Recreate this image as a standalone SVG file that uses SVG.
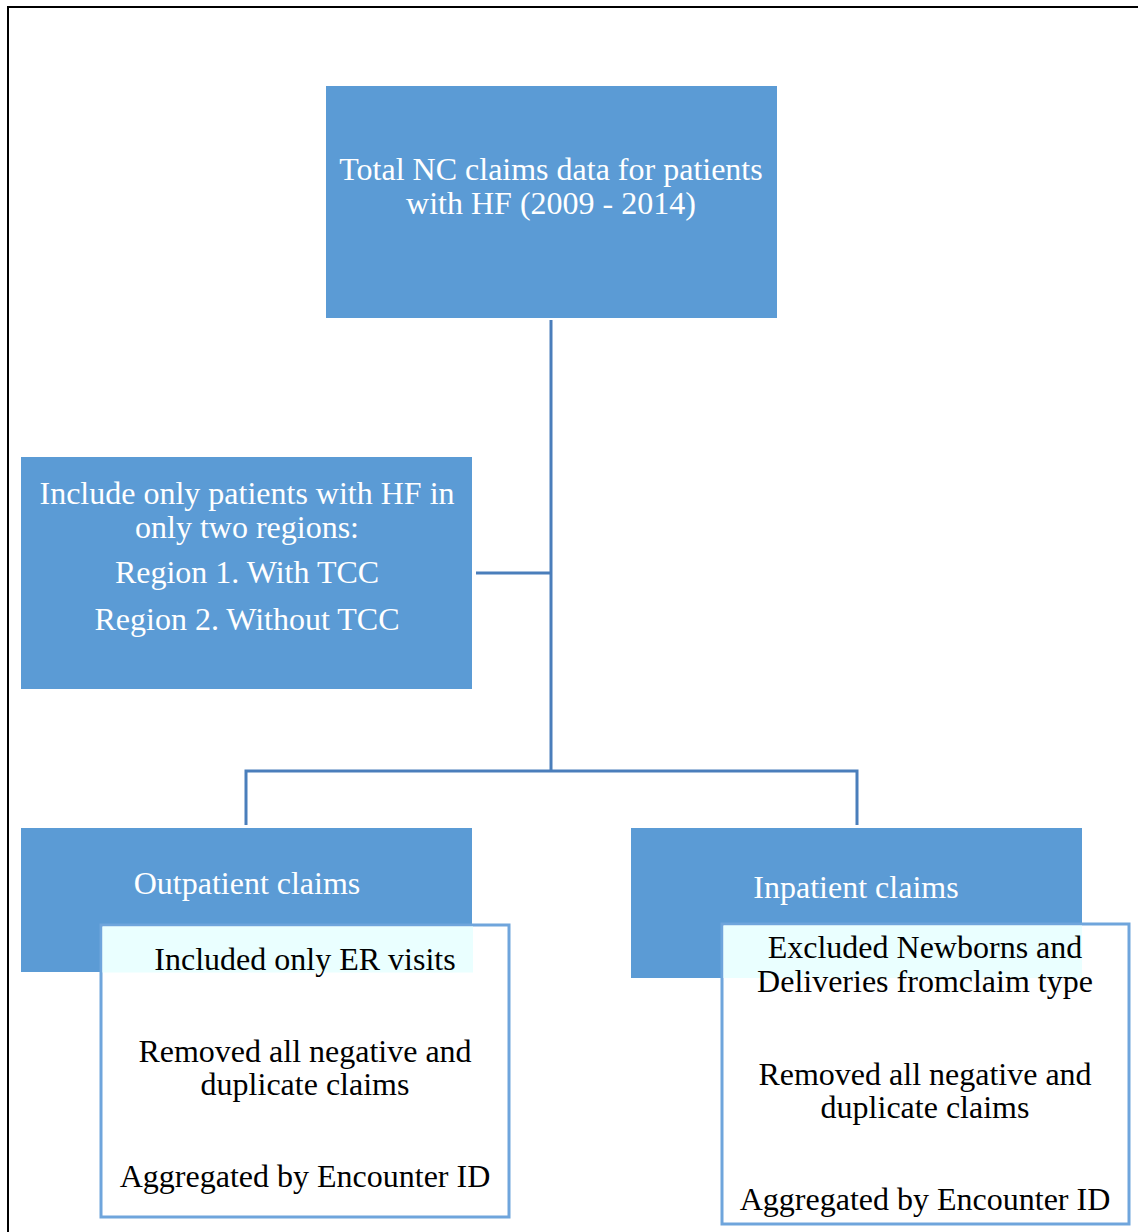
<svg xmlns="http://www.w3.org/2000/svg" width="1138" height="1232" viewBox="0 0 1138 1232">
  <style>
    .box { fill: #5B9BD5; }
    .sub { fill: #FFFFFF; stroke: #6FA5DC; stroke-width: 3; }
    .tint { fill: #EAFFFF; }
    .wt { font-family: "Liberation Serif", "Times New Roman", serif; font-size: 32px; fill: #FFFFFF; text-anchor: middle; }
    .bt { font-family: "Liberation Serif", "Times New Roman", serif; font-size: 32px; fill: #000000; text-anchor: middle; }
    .conn { fill: none; stroke: #4A7EBB; stroke-width: 3; }
  </style>

  <rect x="0" y="0" width="1138" height="1232" fill="#FFFFFF"/>
  <!-- page frame -->
  <path d="M 8 1232 L 8 7 L 1138 7" fill="none" stroke="#000000" stroke-width="2"/>

  <g id="connectors">
    <path class="conn" d="M 551 320 L 551 771"/>
    <path class="conn" d="M 476 573 L 551 573"/>
    <path class="conn" d="M 246 825 L 246 771 L 857 771 L 857 825"/>
  </g>

  <g id="total">
    <rect class="box" x="326" y="86" width="451" height="232"/>
    <text class="wt" x="551" y="180">Total NC claims data for patients</text>
    <text class="wt" x="551" y="214">with HF (2009 - 2014)</text>
  </g>

  <g id="regions">
    <rect class="box" x="21" y="457" width="451" height="232"/>
    <text class="wt" x="247" y="504">Include only patients with HF in</text>
    <text class="wt" x="247" y="538">only two regions:</text>
    <text class="wt" x="247" y="583">Region 1. With TCC</text>
    <text class="wt" x="247" y="630">Region 2. Without TCC</text>
  </g>

  <g id="outpatient">
    <rect class="box" x="21" y="828" width="451" height="144"/>
    <text class="wt" x="247" y="894">Outpatient claims</text>
  </g>

  <g id="outpatient-steps">
    <rect class="sub" x="101" y="925" width="408" height="292"/>
    <rect class="tint" x="102.5" y="926.5" width="370.5" height="46"/>
    <text class="bt" x="305" y="970">Included only ER visits</text>
    <text class="bt" x="305" y="1062">Removed all negative and</text>
    <text class="bt" x="305" y="1095">duplicate claims</text>
    <text class="bt" x="305" y="1187">Aggregated by Encounter ID</text>
  </g>

  <g id="inpatient">
    <rect class="box" x="631" y="828" width="451" height="150"/>
    <text class="wt" x="856" y="898">Inpatient claims</text>
  </g>

  <g id="inpatient-steps">
    <rect class="sub" x="722" y="924" width="407" height="300"/>
    <rect class="tint" x="723.5" y="925.5" width="358.5" height="52.5"/>
    <text class="bt" x="925" y="958">Excluded Newborns and</text>
    <text class="bt" x="925" y="992">Deliveries fromclaim type</text>
    <text class="bt" x="925" y="1085">Removed all negative and</text>
    <text class="bt" x="925" y="1118">duplicate claims</text>
    <text class="bt" x="925" y="1210">Aggregated by Encounter ID</text>
  </g>
</svg>
